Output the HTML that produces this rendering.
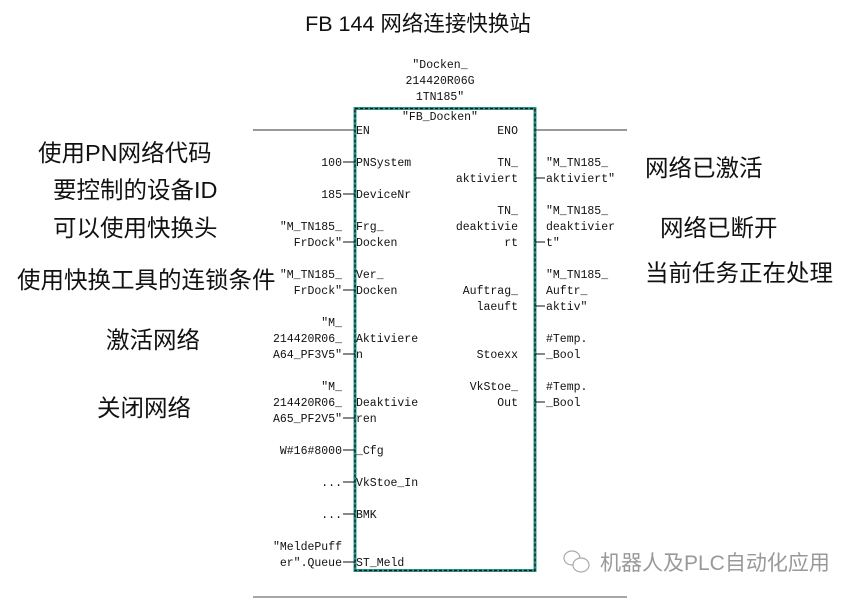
<!DOCTYPE html>
<html><head><meta charset="utf-8"><style>
body{margin:0;background:#fff;}
svg{display:block;}
.m{font-family:"Liberation Mono","Noto Sans CJK SC",monospace;font-size:11.5px;fill:#111;}
.c{font-family:"Liberation Sans","Noto Sans CJK SC",sans-serif;font-size:23.5px;fill:#111;}
</style></head><body>
<svg width="855" height="599" viewBox="0 0 855 599" xmlns="http://www.w3.org/2000/svg">
<text x="418" y="31" text-anchor="middle" style="font-family:'Liberation Sans','Noto Sans CJK SC',sans-serif;font-size:21.5px;fill:#111">FB 144 网络连接快换站</text>
<g class="m" text-anchor="middle">
<text x="440" y="68">″Docken_</text>
<text x="440" y="84">214420R06G</text>
<text x="440" y="100">1TN185″</text>
</g>
<rect x="355" y="108.5" width="180" height="462" fill="none" stroke="#2a968c" stroke-width="3"/>
<rect x="355" y="108.5" width="180" height="462" fill="none" stroke="#111" stroke-width="1.2" stroke-dasharray="3,2"/>
<line x1="253" y1="130" x2="354" y2="130" stroke="#333" stroke-width="1"/>
<line x1="536" y1="130" x2="627" y2="130" stroke="#333" stroke-width="1"/>
<line x1="253" y1="597" x2="627" y2="597" stroke="#888" stroke-width="1.5"/>
<g stroke="#111" stroke-width="1">
<line x1="343" y1="162" x2="355" y2="162"/><line x1="343" y1="194" x2="355" y2="194"/>
<line x1="343" y1="242" x2="355" y2="242"/><line x1="343" y1="290" x2="355" y2="290"/>
<line x1="343" y1="354" x2="355" y2="354"/><line x1="343" y1="418" x2="355" y2="418"/>
<line x1="343" y1="450" x2="355" y2="450"/><line x1="343" y1="482" x2="355" y2="482"/>
<line x1="343" y1="514" x2="355" y2="514"/><line x1="343" y1="562" x2="355" y2="562"/>
<line x1="535" y1="178" x2="545" y2="178"/><line x1="535" y1="242" x2="545" y2="242"/>
<line x1="535" y1="306" x2="545" y2="306"/><line x1="535" y1="354" x2="545" y2="354"/>
<line x1="535" y1="402" x2="545" y2="402"/>
</g>
<g class="m">
<text x="440" y="120" text-anchor="middle">″FB_Docken″</text>
<text x="356" y="134">EN</text>
<text x="356" y="166">PNSystem</text>
<text x="356" y="198">DeviceNr</text>
<text x="356" y="230">Frg_</text><text x="356" y="246">Docken</text>
<text x="356" y="278">Ver_</text><text x="356" y="294">Docken</text>
<text x="356" y="342">Aktiviere</text><text x="356" y="358">n</text>
<text x="356" y="406">Deaktivie</text><text x="356" y="422">ren</text>
<text x="356" y="454">_Cfg</text>
<text x="356" y="486">VkStoe_In</text>
<text x="356" y="518">BMK</text>
<text x="356" y="566">ST_Meld</text>
<text x="546" y="166">″M_TN185_</text><text x="546" y="182">aktiviert″</text>
<text x="546" y="214">″M_TN185_</text><text x="546" y="230">deaktivier</text><text x="546" y="246">t″</text>
<text x="546" y="278">″M_TN185_</text><text x="546" y="294">Auftr_</text><text x="546" y="310">aktiv″</text>
<text x="546" y="342">#Temp.</text><text x="546" y="358">_Bool</text>
<text x="546" y="390">#Temp.</text><text x="546" y="406">_Bool</text>
</g>
<g class="m" text-anchor="end">
<text x="518" y="134">ENO</text>
<text x="518" y="166">TN_</text><text x="518" y="182">aktiviert</text>
<text x="518" y="214">TN_</text><text x="518" y="230">deaktivie</text><text x="518" y="246">rt</text>
<text x="518" y="294">Auftrag_</text><text x="518" y="310">laeuft</text>
<text x="518" y="358">Stoexx</text>
<text x="518" y="390">VkStoe_</text><text x="518" y="406">Out</text>
<text x="342" y="166">100</text>
<text x="342" y="198">185</text>
<text x="342" y="230">″M_TN185_</text><text x="342" y="246">FrDock″</text>
<text x="342" y="278">″M_TN185_</text><text x="342" y="294">FrDock″</text>
<text x="342" y="326">″M_</text><text x="342" y="342">214420R06_</text><text x="342" y="358">A64_PF3V5″</text>
<text x="342" y="390">″M_</text><text x="342" y="406">214420R06_</text><text x="342" y="422">A65_PF2V5″</text>
<text x="342" y="454">W#16#8000</text>
<text x="342" y="486">...</text>
<text x="342" y="518">...</text>
<text x="342" y="550">″MeldePuff</text><text x="342" y="566">er″.Queue</text>
</g>
<g class="c">
<text x="38" y="161">使用PN网络代码</text>
<text x="53" y="198">要控制的设备ID</text>
<text x="53" y="236">可以使用快换头</text>
<text x="17" y="288">使用快换工具的连锁条件</text>
<text x="106" y="348">激活网络</text>
<text x="97" y="416">关闭网络</text>
<text x="645" y="176">网络已激活</text>
<text x="660" y="236">网络已断开</text>
<text x="645" y="281">当前任务正在处理</text>
</g>
<g stroke="#aaa" fill="#fff" stroke-width="1.2">
<ellipse cx="572" cy="558" rx="8" ry="7"/>
<ellipse cx="581" cy="565" rx="8" ry="7"/>
</g>
<text x="600" y="570" style="font-family:'Liberation Sans','Noto Sans CJK SC',sans-serif;font-size:21px;fill:#999">机器人及PLC自动化应用</text>
</svg>
</body></html>
